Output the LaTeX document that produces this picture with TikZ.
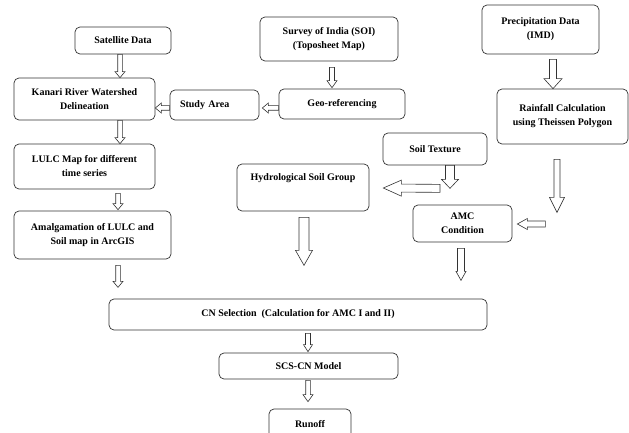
\documentclass[tikz,border=0pt]{standalone}
\usepackage{fontspec}
\setmainfont{Liberation Serif}
\usetikzlibrary{calc}
\tikzset{
  box/.style={draw=black!80, line width=0.7pt, rounded corners=5pt, align=center,
    font=\bfseries\fontsize{10}{14}\selectfont, inner sep=0pt, fill=white},
  barrow/.style n args={3}{to path={let \p1=(\tikztostart), \p2=(\tikztotarget),
    \n1={atan2(\y2-\y1,\x2-\x1)}, \n2={veclen(\x2-\x1,\y2-\y1)} in
    ($(\p1)+(\n1+90:#1)$) -- ($(\p1)+(\n1:\n2-#3)+(\n1+90:#1)$) --
    ($(\p1)+(\n1:\n2-#3)+(\n1+90:#2)$) -- (\p2) --
    ($(\p1)+(\n1:\n2-#3)+(\n1-90:#2)$) -- ($(\p1)+(\n1:\n2-#3)+(\n1-90:#1)$) --
    ($(\p1)+(\n1-90:#1)$) -- cycle}},
  conn/.style={draw=black!80, line width=0.6pt, fill=white, line join=miter},
}
\begin{document}
\begin{tikzpicture}[x=1pt, y=-1pt]
\useasboundingbox (0,0) rectangle (629,433);
\fill[white] (0,0) rectangle (629,433);

% boxes
\node[box, minimum width=96pt, minimum height=27pt] (sat) at (123,40.5) {Satellite Data};
\node[box, minimum width=138pt, minimum height=44pt] (survey) at (329,39) {Survey of India (SOI)\\(Toposheet Map)};
\node[box, minimum width=117pt, minimum height=49pt] (precip) at (540.5,29.5) {Precipitation Data\\(IMD)};
\node[box, minimum width=141pt, minimum height=42pt] (kanari) at (84.5,99) {Kanari River Watershed\\Delineation};
\node[box, minimum width=89pt, minimum height=30pt, text width=69pt, inner xsep=10pt, align=left] (study) at (214.5,105) {Study Area};
\node[box, minimum width=126pt, minimum height=30pt] (geo) at (342,104) {Geo-referencing};
\node[box, minimum width=131pt, minimum height=55pt] (rain) at (562.5,116.5) {Rainfall Calculation\\using Theissen Polygon};
\node[box, minimum width=104pt, minimum height=32pt] (soil) at (435,149) {Soil Texture};
\node[box, minimum width=132pt, minimum height=47pt,
  label={[anchor=center, yshift=-14pt, font=\bfseries\fontsize{10}{14}\selectfont]north:Hydrological Soil Group}] (hydro) at (303,187.5) {};
\node[box, minimum width=141pt, minimum height=45pt] (lulc) at (84.5,166.5) {LULC Map for different\\time series};
\node[box, minimum width=157pt, minimum height=48pt] (amalg) at (92.5,235) {Amalgamation of LULC and\\Soil map in ArcGIS};
\node[box, minimum width=99pt, minimum height=37pt] (amc) at (462.5,223.5) {AMC\\Condition};
\node[box, minimum width=378pt, minimum height=31pt] (cn) at (298,314.5) {CN Selection\ \ (Calculation for AMC I and II)};
\node[box, minimum width=179pt, minimum height=26pt] (scs) at (308.5,366) {SCS-CN Model};
\node[box, minimum width=82pt, minimum height=31pt] (runoff) at (310,424.5) {Runoff};

% free ends
\coordinate (amalgend) at ($(amalg.south)+(25.5,28)$);
\coordinate (hydroend) at ($(hydro.south)+(1,54)$);
\coordinate (rainend) at ($(rain.south)+(-5.5,68)$);
\coordinate (soilend) at ($(soil.south)+(15,23)$);
\coordinate (hsgstart) at ($(soil.south)+(5,23)$);
\coordinate (amcstart) at ($(amc.east)+(33,0.5)$);
\coordinate (amcend) at ($(amc.south)+(-1.5,38)$);

% arrows
\path[conn] ($(sat.south)+(-3,0)$) to[barrow={2.3pt}{5pt}{6pt}] ($(sat.south|-kanari.north)+(-3,0)$);
\path[conn] ($(study.west)+(0,3)$) to[barrow={2.3pt}{5pt}{6pt}] ($(kanari.east|-study.west)+(0,3)$);
\path[conn] ($(geo.west)+(0,4)$) to[barrow={2.3pt}{5pt}{6pt}] ($(study.east|-geo.west)+(3,4)$);
\path[conn] ($(survey.south)+(3,6)$) to[barrow={2.5pt}{5pt}{7pt}] ($(survey.south|-geo.north)+(3,-1)$);
\path[conn] ($(kanari.south)+(35.5,0)$) to[barrow={2.3pt}{5pt}{6pt}] ($(kanari.south|-lulc.north)+(35.5,0)$);
\path[conn] ($(lulc.south)+(33.5,4)$) to[barrow={2.3pt}{5pt}{6pt}] ($(lulc.south|-amalg.north)+(33.5,-1)$);
\path[conn] ($(amalg.south)+(25.5,6)$) to[barrow={2.3pt}{5pt}{6pt}] (amalgend);
\path[conn] ($(hydro.south)+(1,6)$) to[barrow={5pt}{8.5pt}{15pt}] (hydroend);
\path[conn] ($(precip.south)+(12.5,5)$) to[barrow={3.5pt}{9pt}{10pt}] ($(precip.south|-rain.north)+(12.5,0)$);
\path[conn] ($(rain.south)+(-5.5,15)$) to[barrow={3pt}{7.5pt}{15pt}] (rainend);
\path[conn] ($(soil.south)+(15,0)$) to[barrow={4.5pt}{8.5pt}{9pt}] (soilend);
\path[conn] (hsgstart) to[barrow={4pt}{8pt}{18pt}] ($(hydro.east)+(14,0.5)$);
\path[conn] (amcstart) to[barrow={3pt}{5.5pt}{10pt}] ($(amc.east)+(5,0.5)$);
\path[conn] ($(amc.south)+(-1.5,6)$) to[barrow={3.5pt}{5pt}{9pt}] (amcend);
\path[conn] ($(cn.south)+(10,3)$) to[barrow={2.5pt}{4.5pt}{7pt}] ($(cn.south|-scs.north)+(10,-1)$);
\path[conn] ($(scs.south)+(-0.5,1)$) to[barrow={2.3pt}{5pt}{7pt}] ($(scs.south|-runoff.north)+(-0.5,-7)$);
\end{tikzpicture}
\end{document}
